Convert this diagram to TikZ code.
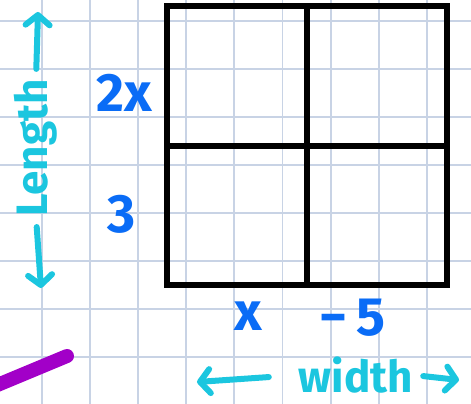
\documentclass[tikz,border=0pt]{standalone}
\usepackage{fontspec}
\setmainfont{Fira Sans}
\usetikzlibrary{arrows.meta}
\definecolor{padcyan}{HTML}{1BC6DF}
\definecolor{padblue}{HTML}{0A6CF6}
\definecolor{padpurple}{HTML}{A200C8}
\definecolor{padgrid}{HTML}{C8D3E5}

\tikzset{
  gridline/.style={padgrid, line width=1.8pt},
  boxline/.style={line width=5.8pt, line cap=rect, line join=miter},
  factor/.style={text=padblue, font=\fontsize{54}{54}\selectfont\bfseries, inner sep=0pt},
  dimlabel/.style={text=padcyan, font=\fontsize{44}{44}\selectfont\bfseries, inner sep=0pt},
  dimarrow/.style={padcyan, line width=6pt, line cap=round,
    -{Straight Barb[round, length=10pt, width=24pt]}},
}

\begin{document}
\begin{tikzpicture}[x=1pt,y=-1pt]
  \useasboundingbox (0,0) rectangle (471,404);
  % paper grid
  \foreach \gx in {0,...,8}
    \draw[gridline] (41.7+48.15*\gx,0) -- (41.7+48.15*\gx,404);
  \foreach \gy in {0,...,7}
    \draw[gridline] (0,20.7+48*\gy) -- (471,20.7+48*\gy);
  % area model
  \draw[boxline] (167,6) rectangle (447,285);
  \draw[boxline] (307,6) -- (307,285);
  \draw[boxline] (167,146) -- (447,146);
  % factors
  \node[factor] (tall) at (124,93) {2x};
  \node[factor] (short) at (122,214) {3};
  \node[factor] (first) at (248,316) {x};
  \node[factor] (second) at (352,318) {−\,5};
  % dimensions
  \node[dimlabel, rotate=90] (length) at (36,148) {Length};
  \node[dimlabel] (width) at (356,375) {width};
  \coordinate (lenTop) at (38,12);
  \coordinate (lenBot) at (41,288);
  \coordinate (widLeft) at (197,382);
  \coordinate (widRight) at (459,380);
  \draw[dimarrow, shorten <=10pt] (length.east) -- (lenTop);
  \draw[dimarrow, shorten <=10pt] (length.west) -- (lenBot);
  \draw[dimarrow, shorten <=30pt] (width.west) -- (widLeft);
  \draw[dimarrow, shorten <=10pt] (width.east) -- (widRight);
  % pen stroke
  \draw[padpurple, line width=14pt, line cap=round] (-5,386) -- (67,356);
\end{tikzpicture}
\end{document}
